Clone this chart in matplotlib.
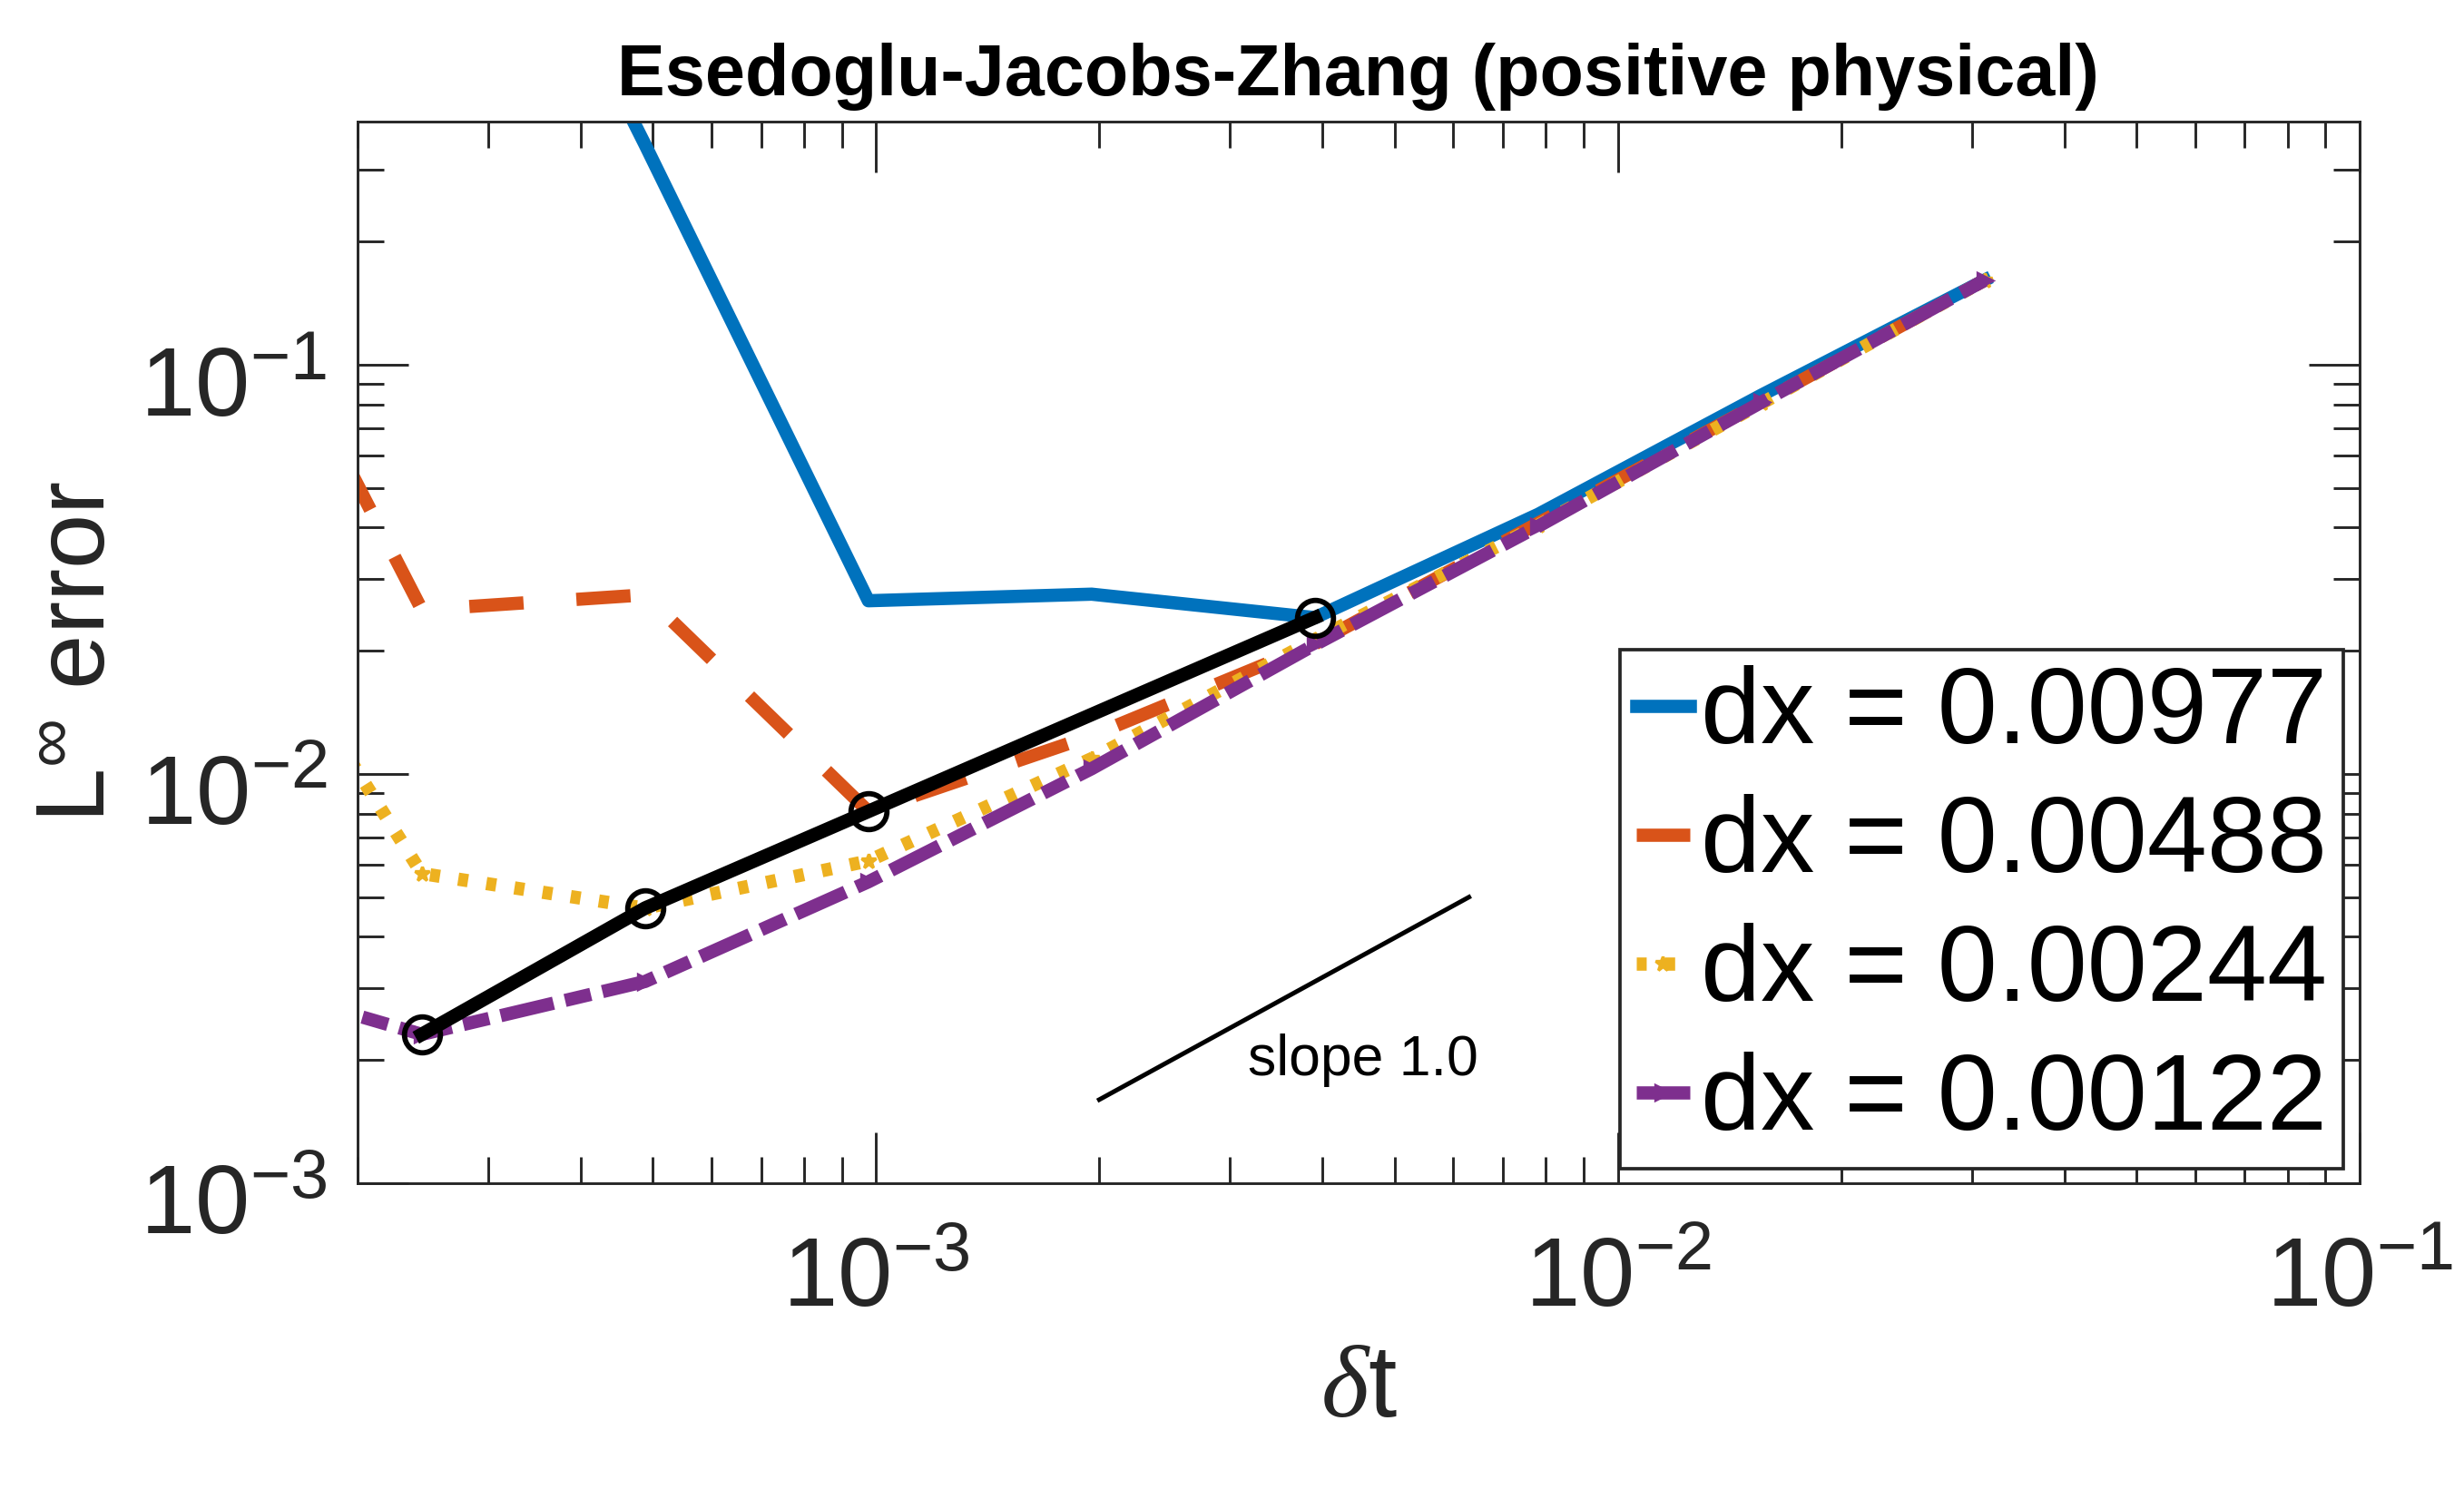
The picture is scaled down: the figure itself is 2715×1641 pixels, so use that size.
import matplotlib
matplotlib.use("Agg")
import matplotlib.pyplot as plt
import matplotlib.transforms as mtransforms
import numpy as np
from matplotlib.ticker import NullFormatter

plt.rcParams.update({
    "font.family": "Liberation Sans",
    "mathtext.fontset": "custom",
    "mathtext.rm": "Liberation Sans",
    "mathtext.it": "Liberation Serif:italic",
    "mathtext.bf": "Liberation Sans:bold",
})

# time steps (same for every dx)
dt = [1.2207e-4, 2.4414e-4, 4.8828e-4, 9.7656e-4, 1.9531e-3,
      3.9063e-3, 7.8125e-3, 1.5625e-2, 3.125e-2]

# L-infinity errors
err_dx_00977 = [np.nan, 4.2, 0.345, 0.0265, 0.0275, 0.0241, 0.0431, 0.0843, 0.161]
err_dx_00488 = [0.29, 0.0252, 0.0274, 0.0081, 0.0124, 0.0208, 0.0410, 0.0810, 0.161]
err_dx_00244 = [0.0418, 0.00571, 0.00470, 0.00613, 0.0109, 0.0213, 0.0405, 0.0805, 0.161]
err_dx_00122 = [0.00333, 0.00231, 0.00311, 0.00545, 0.0103, 0.0207, 0.0403, 0.0810, 0.161]

labels = ["dx = 0.00977", "dx = 0.00488", "dx = 0.00244", "dx = 0.00122"]

# diagonal (dt ~ dx) path
diag_dt = [2.4414e-4, 4.8828e-4, 9.7656e-4, 3.9063e-3]
diag_err = [0.00231, 0.00470, 0.0081, 0.0241]

# reference slope
slope_x = [2.0e-3, 6.3e-3]
slope_y = [1.6e-3, 5.0e-3]

COLORS = ["#0072BD", "#D95319", "#EDB120", "#7E2F8E"]
STYLES = ["-", (0, (4.1, 4.0)), (0, (0.75, 1.4)), (0, (4.1, 0.9, 2.0, 0.9))]
MARKERS = [None, None, "*", ">"]

fig = plt.figure(figsize=(2715 / 300, 1641 / 300), dpi=300)
ax = fig.add_axes([0.1451, 0.2054, 0.8125, 0.7130])

series = [err_dx_00977, err_dx_00488, err_dx_00244, err_dx_00122]
for ys, lab, c, ls, m in zip(series, labels, COLORS, STYLES, MARKERS):
    ax.loglog(dt, ys, color=c, lw=3.5, linestyle=ls, label=lab,
              marker=m, markersize=4, markeredgewidth=0.8)

ax.loglog(diag_dt, diag_err, color="k", lw=3.6, marker="o", markersize=9.5,
          markerfacecolor="none", markeredgecolor="k", markeredgewidth=1.4)

ax.loglog(slope_x, slope_y, color="k", lw=1.2)
ax.text(3.17e-3, 1.84e-3, "slope 1.0", fontsize=15, ha="left", va="baseline")

ax.set_xlim(2e-4, 1e-1)
ax.set_ylim(1e-3, 0.393)

ax.xaxis.set_minor_formatter(NullFormatter())
ax.yaxis.set_minor_formatter(NullFormatter())

ax.tick_params(which="both", direction="in", top=True, right=True,
               width=0.7, color="#262626", labelcolor="#262626")
ax.tick_params(which="major", length=13.5, labelsize=26)
ax.tick_params(which="minor", length=7)
ax.tick_params(axis="x", which="major", pad=14)
ax.tick_params(axis="y", which="major", pad=8)
for s in ax.spines.values():
    s.set_linewidth(0.7)
    s.set_color("#262626")

ax.set_title("Esedoglu-Jacobs-Zhang (positive physical)", fontsize=19,
             fontweight="bold", pad=7)
ax.set_xlabel(r"$\delta$t", fontsize=27, labelpad=4, color="#262626")
ax.set_ylabel(r"L$^{\infty}$ error", fontsize=26, labelpad=4, color="#262626")

leg = ax.legend(loc="lower right", bbox_to_anchor=(0.9918, 0.0137),
                borderaxespad=0, fontsize=28.5, handlelength=0.5,
                handletextpad=0.1, labelspacing=0.26, borderpad=0.15,
                fancybox=False, edgecolor="#262626", framealpha=1)
leg.get_frame().set_linewidth(0.9)

# MATLAB puts the "10" a bit below the tick, shift y tick labels down
fig.canvas.draw()
shift = mtransforms.ScaledTranslation(0, -4.3 / 72, fig.dpi_scale_trans)
for lab in ax.yaxis.get_majorticklabels():
    lab.set_transform(lab.get_transform() + shift)

fig.savefig("out.png", dpi=300)
